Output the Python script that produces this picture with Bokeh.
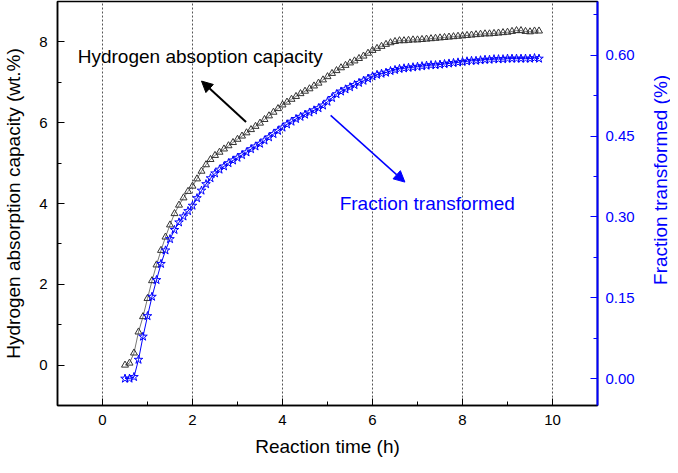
import math
from bokeh.plotting import figure
from bokeh.layouts import row
from bokeh.models import (Range1d, LinearAxis, SingleIntervalTicker, NumeralTickFormatter,
                          Label, Arrow, NormalHead, ColumnDataSource)
from bokeh.embed import file_html
from bokeh.resources import INLINE

# ---- data ----
time_h = [0.5, 0.6, 0.7, 0.8, 0.9, 1.0, 1.1, 1.2, 1.3, 1.4, 1.5, 1.6, 1.7, 1.8, 1.9,
          2.0, 2.1, 2.2, 2.3, 2.4, 2.5, 2.6, 2.7, 2.8, 2.9, 3.0, 3.1, 3.2, 3.3, 3.4,
          3.5, 3.6, 3.7, 3.8, 3.9, 4.0, 4.1, 4.2, 4.3, 4.4, 4.5, 4.6, 4.7, 4.8, 4.9,
          5.0, 5.1, 5.2, 5.3, 5.4, 5.5, 5.6, 5.7, 5.8, 5.9, 6.0, 6.1, 6.2, 6.3, 6.4,
          6.5, 6.6, 6.7, 6.8, 6.9, 7.0, 7.1, 7.2, 7.3, 7.4, 7.5, 7.6, 7.7, 7.8, 7.9,
          8.0, 8.1, 8.2, 8.3, 8.4, 8.5, 8.6, 8.7, 8.8, 8.9, 9.0, 9.1, 9.2, 9.3, 9.4,
          9.5, 9.6, 9.7]

capacity_wt = [0.00, 0.05, 0.30, 0.82, 1.20, 1.65, 2.09, 2.48, 2.84, 3.17, 3.47, 3.75, 3.96, 4.14, 4.30,
               4.43, 4.61, 4.80, 4.96, 5.09, 5.19, 5.27, 5.35, 5.43, 5.51, 5.59, 5.67, 5.75, 5.83, 5.91,
               5.99, 6.08, 6.17, 6.26, 6.35, 6.44, 6.51, 6.58, 6.65, 6.72, 6.78, 6.84, 6.91, 6.98, 7.06,
               7.14, 7.22, 7.29, 7.36, 7.42, 7.48, 7.53, 7.59, 7.65, 7.72, 7.79, 7.84, 7.89, 7.94, 7.98,
               8.01, 8.03, 8.03, 8.04, 8.05, 8.05, 8.06, 8.07, 8.08, 8.09, 8.10, 8.11, 8.12, 8.13, 8.14,
               8.15, 8.16, 8.17, 8.18, 8.19, 8.20, 8.20, 8.21, 8.22, 8.23, 8.24, 8.26, 8.28, 8.28, 8.26,
               8.25, 8.27, 8.27]

fraction = [0.000, 0.000, 0.003, 0.035, 0.078, 0.116, 0.152, 0.183, 0.213, 0.238, 0.259, 0.276, 0.290, 0.301, 0.311,
            0.321, 0.335, 0.349, 0.361, 0.372, 0.381, 0.388, 0.394, 0.400, 0.405, 0.410, 0.415, 0.420, 0.426, 0.431,
            0.436, 0.442, 0.448, 0.454, 0.460, 0.466, 0.472, 0.477, 0.482, 0.486, 0.490, 0.494, 0.498, 0.502, 0.507,
            0.514, 0.521, 0.528, 0.533, 0.537, 0.541, 0.545, 0.549, 0.553, 0.557, 0.561, 0.564, 0.566, 0.568, 0.571,
            0.573, 0.575, 0.576, 0.577, 0.578, 0.579, 0.580, 0.581, 0.582, 0.582, 0.583, 0.584, 0.585, 0.586, 0.587,
            0.588, 0.589, 0.590, 0.590, 0.591, 0.592, 0.592, 0.593, 0.593, 0.593, 0.594, 0.594, 0.594, 0.594, 0.594,
            0.594, 0.595, 0.594]

x_label = "Reaction time (h)"
y_left_label = "Hydrogen absorption capacity (wt.%)"
y_right_label = "Fraction transformed (%)"
ann_capacity = "Hydrogen absoption capacity"
ann_fraction = "Fraction transformed"

FONT = "Liberation Sans"
BLUE = "#0000ff"

p = figure(width=647, height=462, output_backend="svg", toolbar_location=None,
           x_range=Range1d(-1, 11), y_range=Range1d(-1, 9),
           min_border_left=52, min_border_right=50, min_border_top=1, min_border_bottom=57)
p.extra_y_ranges = {"frac": Range1d(-0.05, 0.70)}

p.outline_line_color = "black"
p.outline_line_width = 1.5
p.background_fill_color = "white"
p.border_fill_color = "white"

# grid
p.xgrid.grid_line_color = "#555555"
p.xgrid.grid_line_dash = "2 2"
p.xgrid.grid_line_width = 1
p.ygrid.visible = False

def style_axis(ax, color):
    ax.axis_line_color = color
    ax.major_tick_line_color = color
    ax.minor_tick_line_color = color
    ax.major_label_text_color = color
    ax.axis_label_text_color = color
    ax.major_tick_in = 7
    ax.major_tick_out = 0
    ax.minor_tick_in = 4
    ax.minor_tick_out = 0
    ax.major_label_text_font = FONT
    ax.major_label_text_font_size = "15px"
    ax.axis_label_text_font = FONT
    ax.axis_label_text_font_size = "19px"
    ax.axis_label_text_font_style = "normal"

xa = p.xaxis[0]
xa.ticker = SingleIntervalTicker(interval=2, num_minor_ticks=2)
p.xgrid.ticker = xa.ticker
xa.axis_label = x_label
style_axis(xa, "black")
xa.axis_line_width = 1.5
xa.major_label_standoff = 9
xa.axis_label_standoff = 8

ya = p.yaxis[0]
ya.ticker = SingleIntervalTicker(interval=2, num_minor_ticks=2)
ya.axis_label = y_left_label
style_axis(ya, "black")
ya.axis_line_width = 1.5
ya.major_label_standoff = 10
ya.axis_label_standoff = 12

yr = LinearAxis(y_range_name="frac",
                ticker=SingleIntervalTicker(interval=0.15, num_minor_ticks=2),
                formatter=NumeralTickFormatter(format="0.00"))
style_axis(yr, BLUE)
yr.axis_line_width = 2
yr.major_label_standoff = 8
p.add_layout(yr, "right")

src = ColumnDataSource(dict(t=time_h, cap=capacity_wt, frac=fraction))

p.line("t", "cap", source=src, line_color="#777777", line_width=1)
p.scatter("t", "cap", source=src, marker="triangle", size=7, fill_color=None,
          line_color="#333333", line_width=1)

p.line("t", "frac", source=src, y_range_name="frac", line_color=BLUE, line_width=1)
p.scatter("t", "frac", source=src, y_range_name="frac", marker="star", size=9,
          fill_color=None, line_color=BLUE, line_width=1)

# annotations
p.add_layout(Label(x=-0.55, y=7.64, text=ann_capacity, text_baseline="middle",
                   text_font=FONT, text_font_size="19px", text_color="black"))
p.add_layout(Arrow(x_start=3.19, y_start=6.02, x_end=2.2, y_end=7.03,
                   line_color="black", line_width=2,
                   end=NormalHead(size=11, fill_color="black", line_color="black")))
p.add_layout(Label(x=5.27, y=4.0, text=ann_fraction, text_baseline="middle",
                   text_font=FONT, text_font_size="19px", text_color=BLUE))
p.add_layout(Arrow(x_start=5.07, y_start=6.18, x_end=6.72, y_end=4.53,
                   line_color=BLUE, line_width=1.5,
                   end=NormalHead(size=11, fill_color=BLUE, line_color=BLUE)))

# narrow strip to the right holding the right-axis title (reads bottom-to-top)
p2 = figure(width=23, height=462, output_backend="svg", toolbar_location=None,
            x_range=Range1d(0, 23), y_range=Range1d(0, 462),
            min_border_left=0, min_border_right=0, min_border_top=0, min_border_bottom=0)
p2.axis.visible = False
p2.grid.visible = False
p2.outline_line_color = None
p2.background_fill_color = "white"
p2.border_fill_color = "white"
p2.add_layout(Label(x=13, y=258, text=y_right_label, angle=math.pi / 2,
                    text_align="center", text_baseline="middle",
                    text_font=FONT, text_font_size="19px", text_color=BLUE))

layout = row(p, p2)
open("out.html", "w").write(file_html(layout, INLINE))
